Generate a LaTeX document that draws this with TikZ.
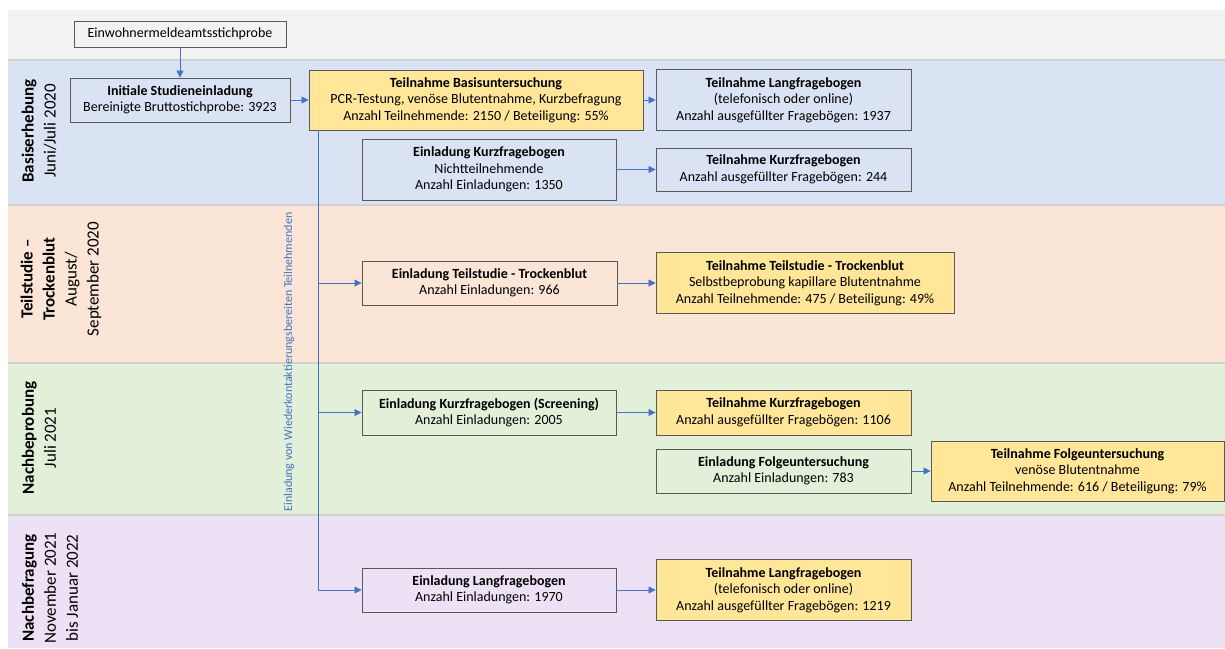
\documentclass[tikz,border=0pt]{standalone}
\usepackage{fontspec}
\setmainfont{Carlito}
\usetikzlibrary{arrows.meta}
\definecolor{bandgray}{HTML}{F2F2F2}
\definecolor{bandblue}{HTML}{DAE3F3}
\definecolor{bandorange}{HTML}{FBE5D6}
\definecolor{bandgreen}{HTML}{E2F0D9}
\definecolor{bandpurple}{HTML}{EDE2F5}
\definecolor{hlyellow}{HTML}{FFE699}
\definecolor{boxline}{HTML}{595959}
\definecolor{linkblue}{HTML}{4472C4}
\tikzstyle{bx}=[shape=rectangle,draw=boxline,line width=0.9pt,align=center,inner sep=2pt,font=\fontsize{14}{16.5}\selectfont]
\tikzstyle{hl}=[bx,fill=hlyellow]
\tikzstyle{to}=[-{Triangle[length=7pt,width=7pt]},draw=linkblue,line width=0.8pt]
\tikzstyle{phase}=[rotate=90,align=center,font=\fontsize{17}{22}\selectfont]
\tikzstyle{sep}=[draw=black!18,line width=1.5pt]

\begin{document}
\begin{tikzpicture}[x=1pt,y=-1pt]
            \useasboundingbox (0,0) rectangle (1225,648);
            % phase bands
            \fill[bandgray] (8,10) rectangle (1225,60);
            \fill[bandblue] (8,60) rectangle (1225,205);
            \fill[bandorange] (8,205) rectangle (1225,363);
            \fill[bandgreen] (8,363) rectangle (1225,515);
            \fill[bandpurple] (8,515) rectangle (1225,648);
            \draw[sep] (8,60) -- (1225,60);
            \draw[sep] (8,205) -- (1225,205);
            \draw[sep] (8,363) -- (1225,363);
            \draw[sep] (8,515) -- (1225,515);

            \node[phase] (P1) at (39,131) {\textbf{Basiserhebung}\\Juni/Juli 2020};
            \node[phase] (P2) at (61,279) {\textbf{Teilstudie --}\\\textbf{Trockenblut}\\August/\\September 2020};
            \node[phase] (P3) at (39,438) {\textbf{Nachbeprobung}\\Juli 2021};
            \node[phase] (P4) at (50,588) {\textbf{Nachbefragung}\\November 2021\\bis Januar 2022};

            % boxes
            \node[bx,minimum width=212pt,minimum height=26pt] (Einw) at (180,34) {Einwohnermeldeamtsstichprobe};
            \node[bx,minimum width=220pt,minimum height=44pt] (Init) at (180,100)
                {\textbf{Initiale Studieneinladung}\\Bereinigte Bruttostichprobe: 3923};
            \node[hl,minimum width=334pt,minimum height=60pt] (Basis) at (476,100)
                {\textbf{Teilnahme Basisuntersuchung}\\PCR-Testung, venöse Blutentnahme, Kurzbefragung\\Anzahl Teilnehmende: 2150 / Beteiligung: 55\%};
            \node[bx,minimum width=255pt,minimum height=61pt] (LangT) at (783.5,100)
                {\textbf{Teilnahme Langfragebogen}\\(telefonisch oder online)\\Anzahl ausgefüllter Fragebögen: 1937};
            \node[bx,minimum width=254pt,minimum height=61pt] (EinlKurz) at (489,169.5)
                {\textbf{Einladung Kurzfragebogen}\\Nichtteilnehmende\\Anzahl Einladungen: 1350};
            \node[bx,minimum width=255pt,minimum height=43pt] (KurzT) at (783.5,169.5)
                {\textbf{Teilnahme Kurzfragebogen}\\Anzahl ausgefüllter Fragebögen: 244};
            \node[bx,minimum width=255pt,minimum height=44pt] (EinlTeil) at (489.5,283)
                {\textbf{Einladung Teilstudie - Trockenblut}\\Anzahl Einladungen: 966};
            \node[hl,minimum width=298pt,minimum height=61pt] (TeilT) at (805,283)
                {\textbf{Teilnahme Teilstudie - Trockenblut}\\Selbstbeprobung kapillare Blutentnahme\\Anzahl Teilnehmende: 475 / Beteiligung: 49\%};
            \node[bx,minimum width=254pt,minimum height=45pt] (Screen) at (489,412.5)
                {\textbf{Einladung Kurzfragebogen (Screening)}\\Anzahl Einladungen: 2005};
            \node[hl,minimum width=255pt,minimum height=45pt] (ScreenT) at (783.5,412.5)
                {\textbf{Teilnahme Kurzfragebogen}\\Anzahl ausgefüllter Fragebögen: 1106};
            \node[bx,minimum width=255pt,minimum height=44pt] (EinlFolge) at (783.5,471)
                {\textbf{Einladung Folgeuntersuchung}\\Anzahl Einladungen: 783};
            \node[hl,minimum width=293pt,minimum height=60pt] (FolgeT) at (1077.5,471)
                {\textbf{Teilnahme Folgeuntersuchung}\\venöse Blutentnahme\\Anzahl Teilnehmende: 616 / Beteiligung: 79\%};
            \node[bx,minimum width=254pt,minimum height=44pt] (EinlLang) at (489,590)
                {\textbf{Einladung Langfragebogen}\\Anzahl Einladungen: 1970};
            \node[hl,minimum width=255pt,minimum height=61pt] (LangT2) at (783.5,590)
                {\textbf{Teilnahme Langfragebogen}\\(telefonisch oder online)\\Anzahl ausgefüllter Fragebögen: 1219};

            % connectors
            \draw[to] (Einw) -- (Init);
            \draw[to] (Init) -- (Basis);
            \draw[to] (Basis) -- (LangT);
            \draw[to] (EinlKurz) -- (KurzT);
            \draw[to] (EinlTeil) -- (TeilT);
            \draw[to] (Screen) -- (ScreenT);
            \draw[to] (EinlFolge) -- (FolgeT);
            \draw[to] (EinlLang) -- (LangT2);

            \coordinate (Trunk) at (318,590);
            \draw[to] (Basis.south -| Trunk) |- (EinlLang);
            \draw[to] (Trunk |- EinlTeil) -- (EinlTeil);
            \draw[to] (Trunk |- Screen) -- (Screen);
            \node[rotate=90,text=linkblue,font=\fontsize{12}{14}\selectfont] (Hint) at (289,362)
                {Einladung von Wiederkontaktierungsbereiten Teilnehmenden};
        \end{tikzpicture}
\end{document}
